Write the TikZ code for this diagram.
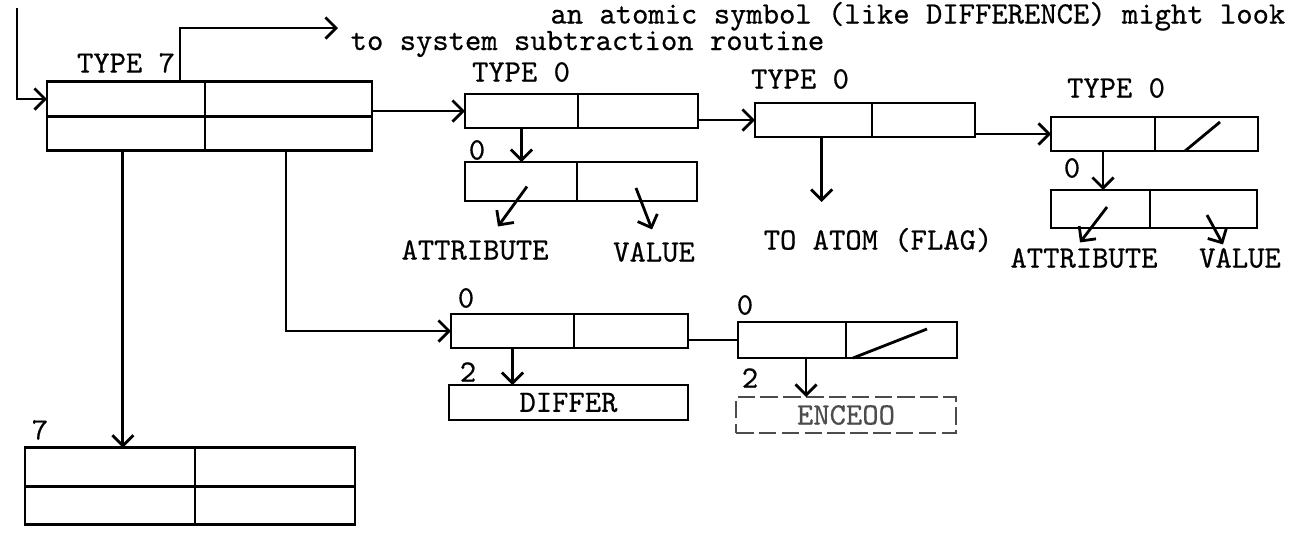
\documentclass[tikz,border=0pt]{standalone}
\usepackage{fontspec}
\setmonofont{lmmono10-regular.otf}[FakeBold=0.5]
\usetikzlibrary{positioning,arrows.meta,calc}

\begin{document}
\begin{tikzpicture}[font=\ttfamily\fontsize{8.85}{10}\selectfont,
      cell/.style={draw,line width=0.8pt,inner sep=0pt,outer sep=0pt},
      faint/.style={cell,draw=black!70,text=black!70,dash pattern=on 5pt off 1.5pt},
      lbl/.style={inner sep=0pt},
      arr/.style={-{Straight Barb[length=3pt,width=6pt]},line width=0.8pt},
      wire/.style={line width=0.8pt}]
    \useasboundingbox (0,0) rectangle (12.96,-5.39);
    \node[lbl,anchor=base east] (head) at (12.86,-0.235)
      {an atomic symbol (like DIFFERENCE) might look};
    \node[lbl,anchor=base west] (sub) at (3.50,-0.50) {to system subtraction routine};
    \node[cell,minimum width=1.58cm,minimum height=3.45mm] (t7a) at (1.26,-0.99) {};
    \node[cell,minimum width=1.67cm,minimum height=3.45mm,right=0pt of t7a] (t7b) {};
    \node[cell,minimum width=1.58cm,minimum height=3.45mm,below=0pt of t7a] (t7c) {};
    \node[cell,minimum width=1.67cm,minimum height=3.45mm,right=0pt of t7c] (t7d) {};
    \node[lbl] (t7lbl) at (1.26,-0.63) {TYPE 7};
    \node[cell,minimum width=1.70cm,minimum height=3.85mm] (b7a) at (1.10,-4.67) {};
    \node[cell,minimum width=1.60cm,minimum height=3.85mm,right=0pt of b7a] (b7b) {};
    \node[cell,minimum width=1.70cm,minimum height=3.85mm,below=0pt of b7a] (b7c) {};
    \node[cell,minimum width=1.60cm,minimum height=3.85mm,right=0pt of b7c] (b7d) {};
    \node[lbl] (sev) at (0.40,-4.30) {7};
    \node[cell,minimum width=1.13cm,minimum height=3.4mm] (b1a) at (5.215,-1.11) {};
    \node[cell,minimum width=1.20cm,minimum height=3.4mm,right=0pt of b1a] (b1b) {};
    \node[lbl] (ty1) at (5.21,-0.72) {TYPE 0};
    \node[cell,minimum width=1.12cm,minimum height=3.9mm] (s1a) at (5.21,-1.815) {};
    \node[cell,minimum width=1.20cm,minimum height=3.9mm,right=0pt of s1a] (s1b) {};
    \node[lbl] (z1) at (4.77,-1.50) {0};
    \node[lbl] (at1) at (4.75,-2.50) {ATTRIBUTE};
    \node[lbl] (va1) at (6.54,-2.52) {VALUE};
    \node[cell,minimum width=1.17cm,minimum height=3.4mm] (b2a) at (8.135,-1.20) {};
    \node[cell,minimum width=1.03cm,minimum height=3.4mm,right=0pt of b2a] (b2b) {};
    \node[lbl] (ty2) at (8.00,-0.79) {TYPE 0};
    \node[lbl] (flag) at (8.78,-2.40) {TO ATOM (FLAG)};
    \node[cell,minimum width=1.04cm,minimum height=3.4mm] (b3a) at (11.03,-1.34) {};
    \node[cell,minimum width=1.03cm,minimum height=3.4mm,right=0pt of b3a] (b3b) {};
    \node[lbl] (ty3) at (11.16,-0.88) {TYPE 0};
    \node[cell,minimum width=0.99cm,minimum height=3.8mm] (s3a) at (11.005,-2.09) {};
    \node[cell,minimum width=1.07cm,minimum height=3.8mm,right=0pt of s3a] (s3b) {};
    \node[lbl] (z3) at (10.72,-1.68) {0};
    \node[lbl] (at2) at (10.84,-2.58) {ATTRIBUTE};
    \node[lbl] (va2) at (12.40,-2.58) {VALUE};
    \node[cell,minimum width=1.23cm,minimum height=3.4mm] (b4a) at (5.125,-3.31) {};
    \node[cell,minimum width=1.14cm,minimum height=3.4mm,right=0pt of b4a] (b4b) {};
    \node[lbl] (z4) at (4.66,-2.98) {0};
    \node[cell,minimum width=1.08cm,minimum height=3.6mm] (b5a) at (7.92,-3.40) {};
    \node[cell,minimum width=1.11cm,minimum height=3.6mm,right=0pt of b5a] (b5b) {};
    \node[lbl] (z5) at (7.45,-3.05) {0};
    \node[cell,minimum width=2.39cm,minimum height=3.5mm] (dif) at (5.685,-4.025) {DIFFER};
    \node[lbl] (two1) at (4.68,-3.72) {2};
    \node[faint,minimum width=2.20cm,minimum height=3.6mm] (enc) at (8.46,-4.15) {ENCEOO};
    \node[lbl] (two2) at (7.50,-3.78) {2};
    \coordinate (ent) at (0.17,-0.08);
    \coordinate (jog) at (1.80,-0.28);
    \coordinate (dn1) at ($(t7c.south west)!0.48!(t7c.south east)$);
    \coordinate (dn2) at ($(t7d.south west)!0.485!(t7d.south east)$);
    \coordinate (flagdn) at ($(b2a.south west)!0.57!(b2a.south east)$);
    \coordinate (flagtip) at ($(flagdn)+(0,-0.65)$);
    \coordinate (encdn) at ($(b5a.south west)!0.63!(b5a.south east)$);
    \draw[arr] (ent) |- (t7a.west);
    \draw[arr] (t7a.north -| jog) -- (jog) -- ($(jog -| sub.west)+(-0.12,0)$);
    \draw[arr] (t7b.east |- b1a.west) -- (b1a.west);
    \draw[arr] (b1b.east |- b2a.west) -- (b2a.west);
    \draw[arr] (b2b.east |- b3a.west) -- (b3a.west);
    \draw[arr] (b1a.south) -- (b1a.south |- s1a.north);
    \draw[arr] (flagdn) -- (flagtip);
    \draw[arr] (b3a.south) -- (b3a.south |- s3a.north);
    \draw[arr] ($(s1a.center)+(0.06,-0.05)$) -- ($(at1.north)+(0.23,0.13)$);
    \draw[arr] ($(s1b.center)+(-0.01,-0.065)$) -- ($(va1.north)+(-0.02,0.12)$);
    \draw[arr] ($(s3a.center)+(0.065,0.02)$) -- ($(at2.north)+(-0.04,0.05)$);
    \draw[arr] ($(s3b.center)+(0.035,-0.06)$) -- ($(va2.north)+(-0.17,0.03)$);
    \draw[wire] ($(b3b.south west)+(0.30,0)$) -- ($(b3b.north west)+(0.65,-0.05)$);
    \draw[arr] (dn1) -- (dn1 |- b7a.north);
    \draw[arr] (dn2) |- (b4a.west);
    \draw[wire] (b4b.east |- b5a.west) -- (b5a.west);
    \draw[wire] ($(b5b.south west)+(0.07,0)$) -- ($(b5b.north east)+(-0.30,-0.07)$);
    \draw[arr] (b4a.south) -- (b4a.south |- dif.north);
    \draw[arr] (encdn) -- (encdn |- enc.north);
  \end{tikzpicture}
\end{document}
